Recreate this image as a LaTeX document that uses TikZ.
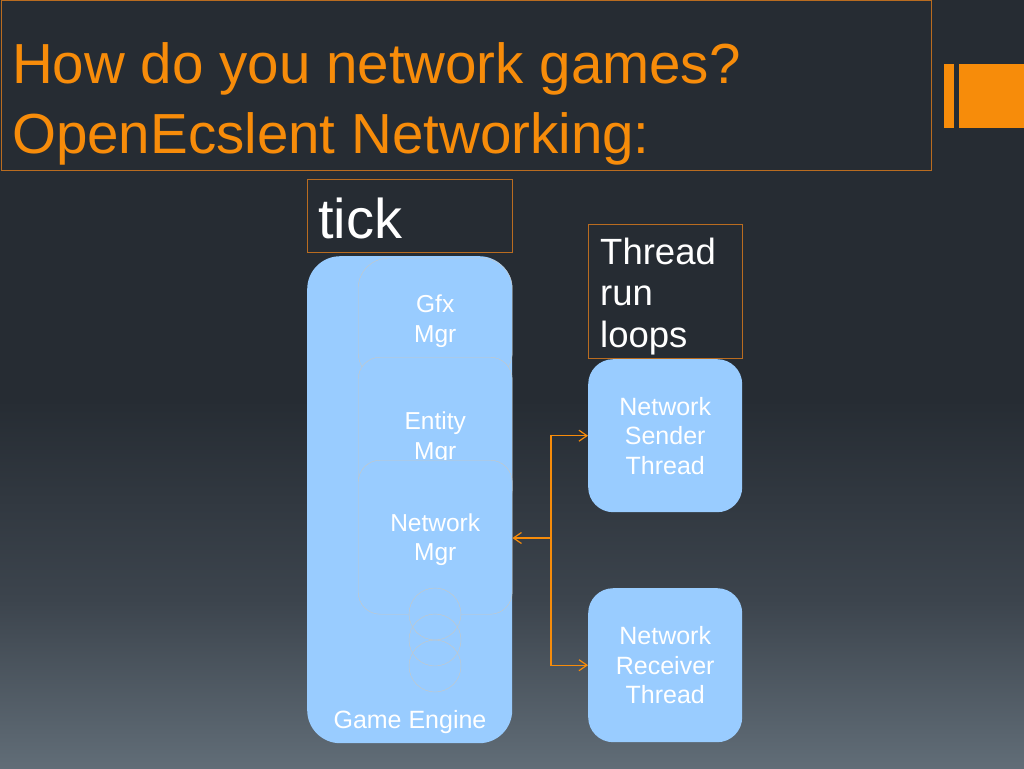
\documentclass[tikz,border=0pt]{standalone}
\usepackage{fontspec}
\setmainfont{Liberation Sans}
\usetikzlibrary{arrows.meta,calc}
\definecolor{bgtop}{RGB}{38,44,51}
\definecolor{bgmid}{RGB}{60,68,77}
\definecolor{bgbot}{RGB}{97,109,119}
\definecolor{org}{RGB}{247,140,10}
\definecolor{orgline}{RGB}{185,108,32}
\definecolor{lblue}{RGB}{153,204,255}
\definecolor{faint}{RGB}{200,200,196}
\pgfdeclareverticalshading{bgshade}{100bp}{color(0bp)=(bgbot); color(25bp)=(bgbot); color(36bp)=(bgmid); color(49bp)=(bgtop); color(100bp)=(bgtop)}
\begin{document}
\begin{tikzpicture}[x=1pt,y=-1pt,
  obox/.style={draw=orgline, line width=1pt, fill=bgtop, rectangle, inner sep=0pt, anchor=north west},
  ttl/.style={text=org, font=\fontsize{56.5}{70}\selectfont, inner sep=0pt, anchor=base west},
  wtxt/.style={text=white, inner sep=0pt},
  bbox/.style={fill=lblue, rectangle, inner sep=0pt, anchor=north west, text=white, align=center, font=\fontsize{25}{29.5}\selectfont},
  inbox/.style={bbox, draw=faint, line width=0.4pt, rounded corners=22pt, minimum width=154pt, font=\fontsize{24.5}{29.5}\selectfont},
  intxt/.style={wtxt, align=center, font=\fontsize{24.5}{29.5}\selectfont},
  dot/.style={circle, fill=lblue, inner sep=0pt, minimum size=52pt},
  conn/.style={draw=org, line width=1.2pt, -{Straight Barb[length=8pt,width=11pt]}}
]
\useasboundingbox (0,0) rectangle (1024,768);
\shade[shading=bgshade] (0,0) rectangle (1024,768);

% title
\node[obox, minimum width=930pt, minimum height=169pt] (titlebox) at (0.5,0.5) {};
\node[ttl] (t1) at (12,83) {How do you network games?};
\node[ttl] (t2) at (12,153) {OpenEcslent Networking:};
\fill[org] (944,64) rectangle (954,128);
\fill[org] (959,64) rectangle (1024,128);

% tick
\node[obox, minimum width=205pt, minimum height=73pt] (tickbox) at (307,179) {};
\node[wtxt, anchor=base west, font=\fontsize{56}{66}\selectfont] (tick) at (318,238) {tick};

% thread run loops
\node[obox, minimum width=154pt, minimum height=134pt] (loopbox) at (588,224) {};
\node[wtxt, anchor=base west, align=left, font=\fontsize{36.5}{41.5}\selectfont] (loops) at (600,347) {Thread\\run\\loops};

% game engine
\node[bbox, rounded corners=33pt, minimum width=205pt, minimum height=487pt] (engine) at (307,256) {};
\node[inbox, rounded corners=30pt, minimum height=124pt] (gfx) at (358,258) {};
\node[intxt] (gfxtxt) at ($(gfx.center)+(0,1)$) {Gfx\\Mgr};
\node[inbox, minimum height=154pt] (entity) at (358,357) {};
\node[intxt] (entitytxt) at ($(entity.center)+(0,4)$) {Entity\\Mgr};
\node[inbox, minimum height=154pt] (netmgr) at (358,460) {};
\node[intxt] (netmgrtxt) at ($(netmgr.center)+(0,2.5)$) {Network\\Mgr};
\node[dot] (c1) at (435,614) {};
\node[dot] (c2) at (435,640) {};
\node[dot] (c3) at (435,666) {};
\foreach \c in {c1,c2,c3} \draw[faint, line width=0.4pt] (\c.center) circle[radius=26pt];
\node[wtxt, anchor=base, font=\fontsize{25}{29.5}\selectfont] (englbl) at (410,728) {Game Engine};

% threads
\node[bbox, rounded corners=25pt, minimum width=154pt, minimum height=153pt] (sender) at (588,359) {Network\\Sender\\Thread};
\node[bbox, rounded corners=25pt, minimum width=154pt, minimum height=154pt] (receiver) at (588,588) {Network\\Receiver\\Thread};

% connectors
\coordinate (j) at (551,538);
\draw[conn] (j) |- (sender.west);
\draw[conn] (j) |- (receiver.west);
\draw[conn] (j) -- (j -| engine.east);
\end{tikzpicture}
\end{document}
